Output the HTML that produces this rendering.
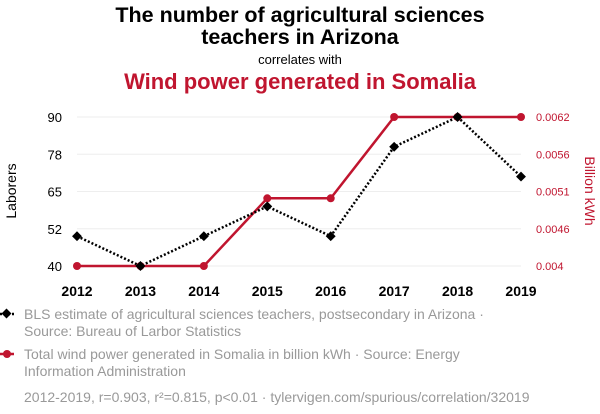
<!DOCTYPE html>
<html><head><meta charset="utf-8"><style>
body{margin:0;background:#fff;font-family:"Liberation Sans",sans-serif;}
svg{display:block}
</style></head><body>
<svg width="600" height="414" xmlns="http://www.w3.org/2000/svg">
<text x="300" y="22" text-anchor="middle" font-size="21.5" font-weight="bold" fill="#000">The number of agricultural sciences</text>
<text x="300" y="44" text-anchor="middle" font-size="21.5" font-weight="bold" fill="#000">teachers in Arizona</text>
<text x="300" y="64" text-anchor="middle" font-size="13" fill="#000">correlates with</text>
<text x="300" y="89" text-anchor="middle" font-size="22" font-weight="bold" fill="#c0152f">Wind power generated in Somalia</text>
<g id="grid"></g>
<g id="axes"></g>
<g id="series"></g>
<text transform="translate(16,191) rotate(-90)" text-anchor="middle" font-size="14" fill="#000">Laborers</text>
<text transform="translate(585,191) rotate(90)" text-anchor="middle" font-size="14" fill="#c0152f">Billion kWh</text>
<g>
<line x1="0" y1="314" x2="14" y2="314" stroke="#000" stroke-width="2.5" stroke-dasharray="2,2"/>
<rect x="3" y="310" width="7" height="7" fill="#000" transform="rotate(45 6.5 313.5)"/>
<text x="24" y="319" font-size="14" fill="#999">BLS estimate of agricultural sciences teachers, postsecondary in Arizona ·</text>
<text x="24" y="336" font-size="14" fill="#999">Source: Bureau of Larbor Statistics</text>
</g>
<g>
<line x1="0" y1="354" x2="14" y2="354" stroke="#c0152f" stroke-width="2.5"/>
<circle cx="7" cy="354" r="4" fill="#c0152f"/>
<text x="24" y="359" font-size="14" fill="#999">Total wind power generated in Somalia in billion kWh · Source: Energy</text>
<text x="24" y="376" font-size="14" fill="#999">Information Administration</text>
</g>
<text x="24" y="402" font-size="14" fill="#999">2012-2019, r=0.903, r²=0.815, p&lt;0.01 · tylervigen.com/spurious/correlation/32019</text>
</svg>
<script>
const years=[2012,2013,2014,2015,2016,2017,2018,2019];
const teachers=[50,40,50,60,50,80,90,70];
const wind=[0.004,0.004,0.004,0.005,0.005,0.0062,0.0062,0.0062];
const leftTicks=[40,52,65,78,90];
const leftTickVals=[40,52.5,65,77.5,90];
const rightTicks=["0.004","0.0046","0.0051","0.0056","0.0062"];
const rightTickVals=[0.004,0.00455,0.0051,0.00565,0.0062];
const NS="http://www.w3.org/2000/svg";
const x=v=>77+(v-2012)*(521-77)/7;
const yL=v=>266-(v-40)*(266-117)/50;
const yR=v=>266-(v-0.004)*(266-117)/0.0022;
function mk(t,a,p){const e=document.createElementNS(NS,t);for(const k in a)e.setAttribute(k,a[k]);p.appendChild(e);return e;}
const grid=document.getElementById('grid'),axes=document.getElementById('axes'),ser=document.getElementById('series');
leftTickVals.forEach((v,i)=>{
 const g=mk('line',{x1:77,x2:521,y1:yL(v),y2:yL(v),stroke:'#eee','stroke-width':1},grid);
 
 
 const t=mk('text',{x:62,y:yL(v)+5,'text-anchor':'end','font-size':13,fill:'#000'},axes);t.textContent=leftTicks[i];
 
 
});
rightTickVals.forEach((v,i)=>{
 const t=mk('text',{x:536,y:yR(v)+4,'font-size':11,fill:'#c0152f'},axes);t.textContent=rightTicks[i];
 
 
});
years.forEach(yr=>{
 const t=mk('text',{x:x(yr),y:296,'text-anchor':'middle','font-size':14,'font-weight':'bold',fill:'#000'},axes);t.textContent=yr;
 
 
});
const rl=mk('polyline',{points:years.map((yr,i)=>x(yr)+','+yR(wind[i])).join(' '),fill:'none',stroke:'#c0152f','stroke-width':2.5},ser);


const bl=mk('polyline',{points:years.map((yr,i)=>x(yr)+','+yL(teachers[i])).join(' '),fill:'none',stroke:'#000','stroke-width':2.5,'stroke-dasharray':'2,2'},ser);


years.forEach((yr,i)=>{
 const c=mk('circle',{cx:x(yr),cy:yR(wind[i]),r:4,fill:'#c0152f'},ser);
 
 
});
years.forEach((yr,i)=>{
 const cx=x(yr),cy=yL(teachers[i]);
 const d=mk('rect',{x:cx-3.5,y:cy-3.5,width:7,height:7,fill:'#000',transform:`rotate(45 ${cx} ${cy})`},ser);
 
 
});
</script>
</body></html>
